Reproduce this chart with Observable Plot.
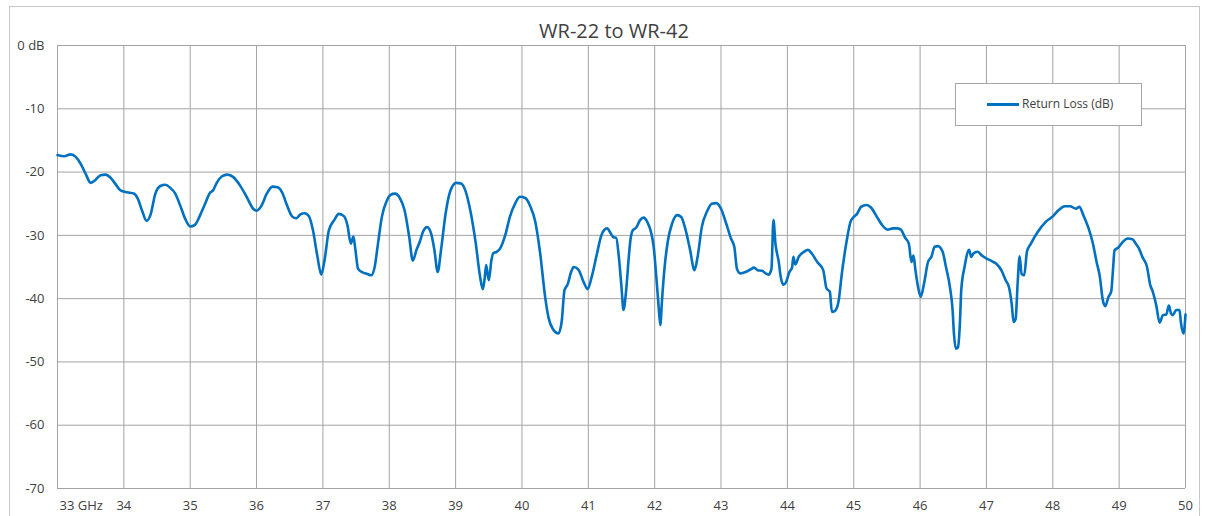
<!DOCTYPE html>
<html>
<head>
<meta charset="utf-8">
<script src="https://cdn.jsdelivr.net/npm/d3@7"></script>
<script src="https://cdn.jsdelivr.net/npm/@observablehq/plot@0.6"></script>
<style>
  html, body { margin: 0; padding: 0; background: #fff; }
  #wrap { position: relative; width: 1208px; height: 516px; overflow: hidden; background: #fff; font-family: "Open Sans", sans-serif; }
  #border { position: absolute; left: 9px; top: 6px; width: 1191px; height: 530px; border: 1px solid #c8c8c8; box-sizing: border-box; }
  #title { position: absolute; left: 0; width: 1228px; top: 17px; text-align: center; font-size: 20px; color: #404040; line-height: 28px; }
  #chart { position: absolute; left: 0; top: 0; }
  #legend { position: absolute; left: 955px; top: 83px; width: 187px; height: 43px; box-sizing: border-box; border: 1px solid #a6a6a6; background: #fff; }
  #legend .swatch { position: absolute; left: 31px; top: 19px; width: 32px; height: 2.5px; background: #0070C0; }
  #legend .lab { position: absolute; left: 66px; top: 11px; font-size: 12px; line-height: 18px; color: #404040; white-space: nowrap; }
</style>
</head>
<body>
<div id="wrap">
  <div id="border"></div>
  <div id="title"></div>
  <div id="chart"></div>
  <div id="legend"><div class="swatch"></div><div class="lab"></div></div>
</div>
<script>
const chartTitle = "WR-22 to WR-42";
const seriesName = "Return Loss (dB)";
const xTickValues = [33, 34, 35, 36, 37, 38, 39, 40, 41, 42, 43, 44, 45, 46, 47, 48, 49, 50];
const yTickValues = [0, -10, -20, -30, -40, -50, -60, -70];

const freqGHz = [
  33.00, 33.10, 33.20, 33.275, 33.35, 33.425, 33.50, 33.575, 33.65, 33.725, 33.80, 33.875, 33.95,
  34.05, 34.15, 34.21, 34.275, 34.34, 34.40, 34.475, 34.55, 34.625, 34.70, 34.775, 34.85, 34.925,
  35.00, 35.075, 35.15, 35.225, 35.29, 35.35, 35.40, 35.475, 35.56, 35.65, 35.75, 35.85, 35.95,
  36.00, 36.075, 36.15, 36.24, 36.315, 36.385, 36.46, 36.535, 36.60, 36.66, 36.725, 36.79, 36.85, 36.915, 36.975,
  37.025, 37.09, 37.17, 37.24, 37.32, 37.37, 37.42, 37.46, 37.49, 37.53, 37.59, 37.67, 37.73, 37.78, 37.83, 37.89, 37.96,
  38.02, 38.085, 38.16, 38.23, 38.30, 38.355, 38.41, 38.46, 38.51, 38.57, 38.63, 38.68, 38.73, 38.78, 38.85, 38.92,
  39.01, 39.08, 39.15, 39.22, 39.30, 39.37, 39.41, 39.44, 39.46, 39.50, 39.54, 39.57, 39.62, 39.67, 39.75, 39.82, 39.90, 39.97,
  40.05, 40.125, 40.20, 40.275, 40.35, 40.40, 40.465, 40.55, 40.60, 40.64, 40.69, 40.74, 40.78, 40.85, 40.93, 40.99,
  41.05, 41.13, 41.20, 41.28, 41.38, 41.42, 41.46, 41.50, 41.53, 41.57, 41.61, 41.64, 41.67, 41.72, 41.78, 41.83, 41.89, 41.945, 41.985,
  42.025, 42.06, 42.085, 42.11, 42.15, 42.20, 42.26, 42.34, 42.40, 42.46, 42.53, 42.60, 42.65, 42.71, 42.79, 42.86, 42.93,
  43.00, 43.08, 43.15, 43.20, 43.24, 43.29, 43.37, 43.44, 43.50, 43.55, 43.62, 43.67, 43.72, 43.76, 43.79, 43.82, 43.87, 43.90, 43.94, 43.98,
  44.03, 44.07, 44.09, 44.12, 44.17, 44.25, 44.31, 44.37, 44.45, 44.54, 44.59, 44.64, 44.67, 44.72, 44.77, 44.82, 44.89, 44.95,
  45.00, 45.05, 45.11, 45.19, 45.26, 45.35, 45.43, 45.51, 45.59, 45.65, 45.71, 45.77, 45.83, 45.87, 45.90, 45.93, 45.97,
  46.01, 46.06, 46.12, 46.17, 46.22, 46.27, 46.34, 46.39, 46.45, 46.49, 46.51, 46.54, 46.57, 46.60, 46.62, 46.67, 46.74, 46.77, 46.81, 46.87, 46.93,
  47.01, 47.085, 47.16, 47.23, 47.29, 47.34, 47.38, 47.41, 47.44, 47.47, 47.50, 47.53, 47.57, 47.61, 47.67, 47.77, 47.89,
  48.00, 48.09, 48.18, 48.26, 48.35, 48.40, 48.46, 48.54, 48.60, 48.66, 48.71, 48.75, 48.79, 48.84, 48.88, 48.91, 48.93, 48.99,
  49.05, 49.13, 49.20, 49.25, 49.30, 49.35, 49.42, 49.47, 49.50, 49.56, 49.61, 49.66, 49.71, 49.75, 49.78, 49.81, 49.86, 49.91, 49.93, 49.97,
  50.00
];

const returnLossDb = [
  -17.3, -17.5, -17.2, -17.6, -18.7, -20.3, -21.7, -21.2, -20.5, -20.4, -20.9, -21.9, -22.9,
  -23.2, -23.4, -24.2, -26.1, -27.7, -26.8, -23.4, -22.2, -22.0, -22.5, -23.4, -25.3, -27.4,
  -28.6, -28.3, -26.8, -25.0, -23.4, -22.8, -21.7, -20.7, -20.4, -20.8, -22.1, -23.9, -25.8,
  -26.1, -25.3, -23.5, -22.3, -22.4, -23.2, -25.3, -27.0, -27.3, -26.7, -26.5, -27.0, -29.2, -33.2, -36.2,
  -33.9, -29.2, -27.6, -26.6, -27.0, -28.4, -31.3, -30.2, -32.3, -35.3, -35.8, -36.1, -36.3, -35.0, -31.3, -27.0, -24.6,
  -23.6, -23.4, -24.1, -26.0, -30.2, -34.0, -32.3, -31.0, -29.4, -28.7, -29.7, -32.3, -35.8, -32.3, -26.5, -23.0,
  -21.7, -21.8, -23.0, -26.0, -31.0, -36.6, -38.5, -36.6, -34.7, -37.1, -33.9, -32.8, -32.6, -32.1, -29.9, -27.0, -24.9, -23.9,
  -24.1, -25.4, -27.8, -32.9, -39.8, -43.0, -44.8, -45.5, -43.5, -38.7, -37.7, -35.8, -35.0, -35.4, -37.4, -38.5,
  -36.6, -32.9, -29.9, -28.9, -30.3, -30.4, -33.4, -38.2, -41.8, -38.7, -33.4, -30.3, -29.2, -28.8, -27.6, -27.2, -27.9, -29.5, -31.8,
  -36.6, -41.3, -44.2, -40.3, -35.0, -30.8, -28.2, -26.8, -27.1, -28.9, -32.1, -35.5, -33.2, -28.7, -26.2, -25.0, -24.9,
  -25.8, -28.2, -30.5, -31.8, -35.3, -36.0, -35.8, -35.4, -35.1, -35.5, -35.6, -36.0, -36.2, -35.3, -27.6, -31.3, -34.2, -36.6, -37.8, -37.4,
  -35.8, -35.1, -33.4, -34.6, -33.4, -32.6, -32.3, -32.9, -34.2, -35.5, -38.4, -38.9, -42.1, -41.9, -40.5, -36.1, -31.1, -27.9,
  -27.1, -26.6, -25.5, -25.2, -25.6, -27.1, -28.4, -29.1, -28.9, -28.9, -29.1, -30.3, -31.3, -34.2, -33.2, -35.5, -38.2,
  -39.7, -37.6, -34.2, -33.4, -31.8, -31.7, -32.6, -35.0, -38.2, -41.8, -45.5, -47.9, -47.7, -43.9, -38.7, -35.0, -32.3, -33.4, -32.8, -32.6, -33.2,
  -33.7, -34.1, -34.6, -35.6, -37.1, -38.2, -40.8, -43.7, -43.2, -37.6, -33.3, -36.1, -36.3, -32.6, -31.3, -29.5, -27.9,
  -27.0, -26.0, -25.4, -25.4, -25.8, -25.5, -26.8, -28.9, -31.1, -34.2, -36.6, -40.0, -41.2, -39.7, -38.9, -35.0, -32.4, -31.9,
  -31.1, -30.5, -30.6, -31.3, -32.1, -33.4, -35.0, -37.9, -38.7, -41.1, -43.8, -42.6, -42.5, -41.1, -42.3, -42.6, -41.8, -41.8, -43.7, -45.5,
  -42.5
];

const data = freqGHz.map((f, i) => ({ f, db: returnLossDb[i] }));

document.getElementById("title").textContent = chartTitle;
document.querySelector("#legend .lab").textContent = seriesName;

const gridColor = "#a3a3a3";
const textColor = "#404040";

const plot = Plot.plot({
  width: 1208,
  height: 516,
  marginLeft: 57,
  marginRight: 23,
  marginTop: 45,
  marginBottom: 28,
  style: { fontFamily: "'Open Sans', sans-serif", fontSize: "13px", color: textColor, background: "transparent" },
  x: { domain: [33, 50], axis: null },
  y: { domain: [-70, 0] },
  marks: [
    Plot.gridX(xTickValues, { stroke: gridColor, strokeOpacity: 1, strokeWidth: 1 }),
    Plot.gridY(yTickValues, { stroke: gridColor, strokeOpacity: 1, strokeWidth: 1 }),
    Plot.axisY(yTickValues, {
      tickSize: 0, tickPadding: 13, label: null, fontSize: 13, fill: textColor,
      tickFormat: d => d === 0 ? "0 dB" : String(d)
    }),
    Plot.text(xTickValues.slice(1), {
      x: d => d, frameAnchor: "bottom", dy: 21, text: d => String(d),
      fontSize: 13, fill: textColor
    }),
    Plot.text(xTickValues.slice(0, 1), {
      x: d => d, frameAnchor: "bottom", dy: 21, dx: 2, text: d => d + " GHz",
      textAnchor: "start", fontSize: 13, fill: textColor
    }),
    Plot.line(data, { x: "f", y: "db", stroke: "#0070C0", strokeWidth: 2.6, curve: "monotone-x" })
  ]
});
document.getElementById("chart").appendChild(plot);
</script>
</body>
</html>
